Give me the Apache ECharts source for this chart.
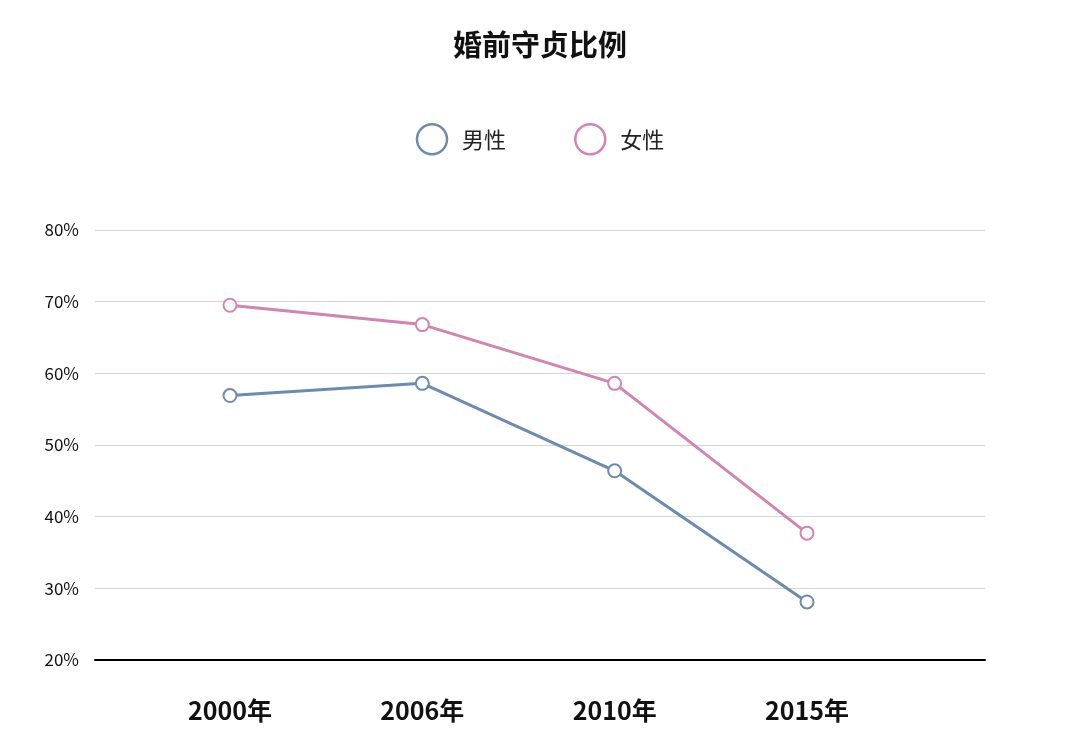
<!DOCTYPE html>
<html><head><meta charset="utf-8">
<script src="https://cdn.jsdelivr.net/npm/echarts@6/dist/echarts.min.js"></script>
<style>html,body{margin:0;background:#fff}#c{width:1080px;height:748px}</style>
</head><body><div id="c"></div>
<script>
const categories = ['2000年','2006年','2010年','2015年'];
const male = [56.9, 58.6, 46.4, 28.1];
const female = [69.5, 66.8, 58.6, 37.7];
const font = '"Noto Sans CJK SC","Noto Sans",sans-serif';
const chart = echarts.init(document.getElementById('c'));
chart.setOption({
  backgroundColor:'#fff',
  title:{text:'婚前守贞比例',left:'center',top:25,textStyle:{fontFamily:font,fontSize:29,fontWeight:'bold',color:'#111'}},
  legend:{top:118,left:'center',itemGap:68,itemWidth:30,itemHeight:30,icon:'circle',
    textStyle:{fontFamily:font,fontSize:22,color:'#222',padding:[0,0,0,10]},
    data:[{name:'男性',itemStyle:{color:'#fff',borderColor:'#6b8bb0',borderWidth:2.5}},
          {name:'女性',itemStyle:{color:'#fff',borderColor:'#d383b2',borderWidth:2.5}}]},
  grid:[{left:95,right:95,top:230,bottom:88},{left:230,right:273,top:230,bottom:88}],
  xAxis:[
    {gridIndex:0,type:'category',data:[''],axisLine:{lineStyle:{color:'#000',width:2}},axisTick:{show:false},axisLabel:{show:false}},
    {gridIndex:1,type:'category',data:categories,boundaryGap:false,axisLine:{show:false},axisTick:{show:false},
     axisLabel:{margin:38,fontFamily:font,fontSize:25,fontWeight:'bold',color:'#111'}}
  ],
  yAxis:[
    {gridIndex:0,type:'value',min:20,max:80,interval:10,axisLine:{show:false},axisTick:{show:false},
     axisLabel:{formatter:'{value}%',fontFamily:font,fontSize:17,color:'#111',margin:16},
     splitLine:{lineStyle:{color:'#d5d5d5',width:1}}},
    {gridIndex:1,type:'value',min:20,max:80,interval:10,show:false,splitLine:{show:false}}
  ],
  series:[
    {name:'男性',type:'line',xAxisIndex:1,yAxisIndex:1,data:male,symbol:'emptyCircle',symbolSize:13,
     lineStyle:{color:'#6b8bb0',width:3},itemStyle:{color:'#6b8bb0',borderWidth:2}},
    {name:'女性',type:'line',xAxisIndex:1,yAxisIndex:1,data:female,symbol:'emptyCircle',symbolSize:13,
     lineStyle:{color:'#d383b2',width:3},itemStyle:{color:'#d383b2',borderWidth:2}}
  ]
});
</script></body></html>
